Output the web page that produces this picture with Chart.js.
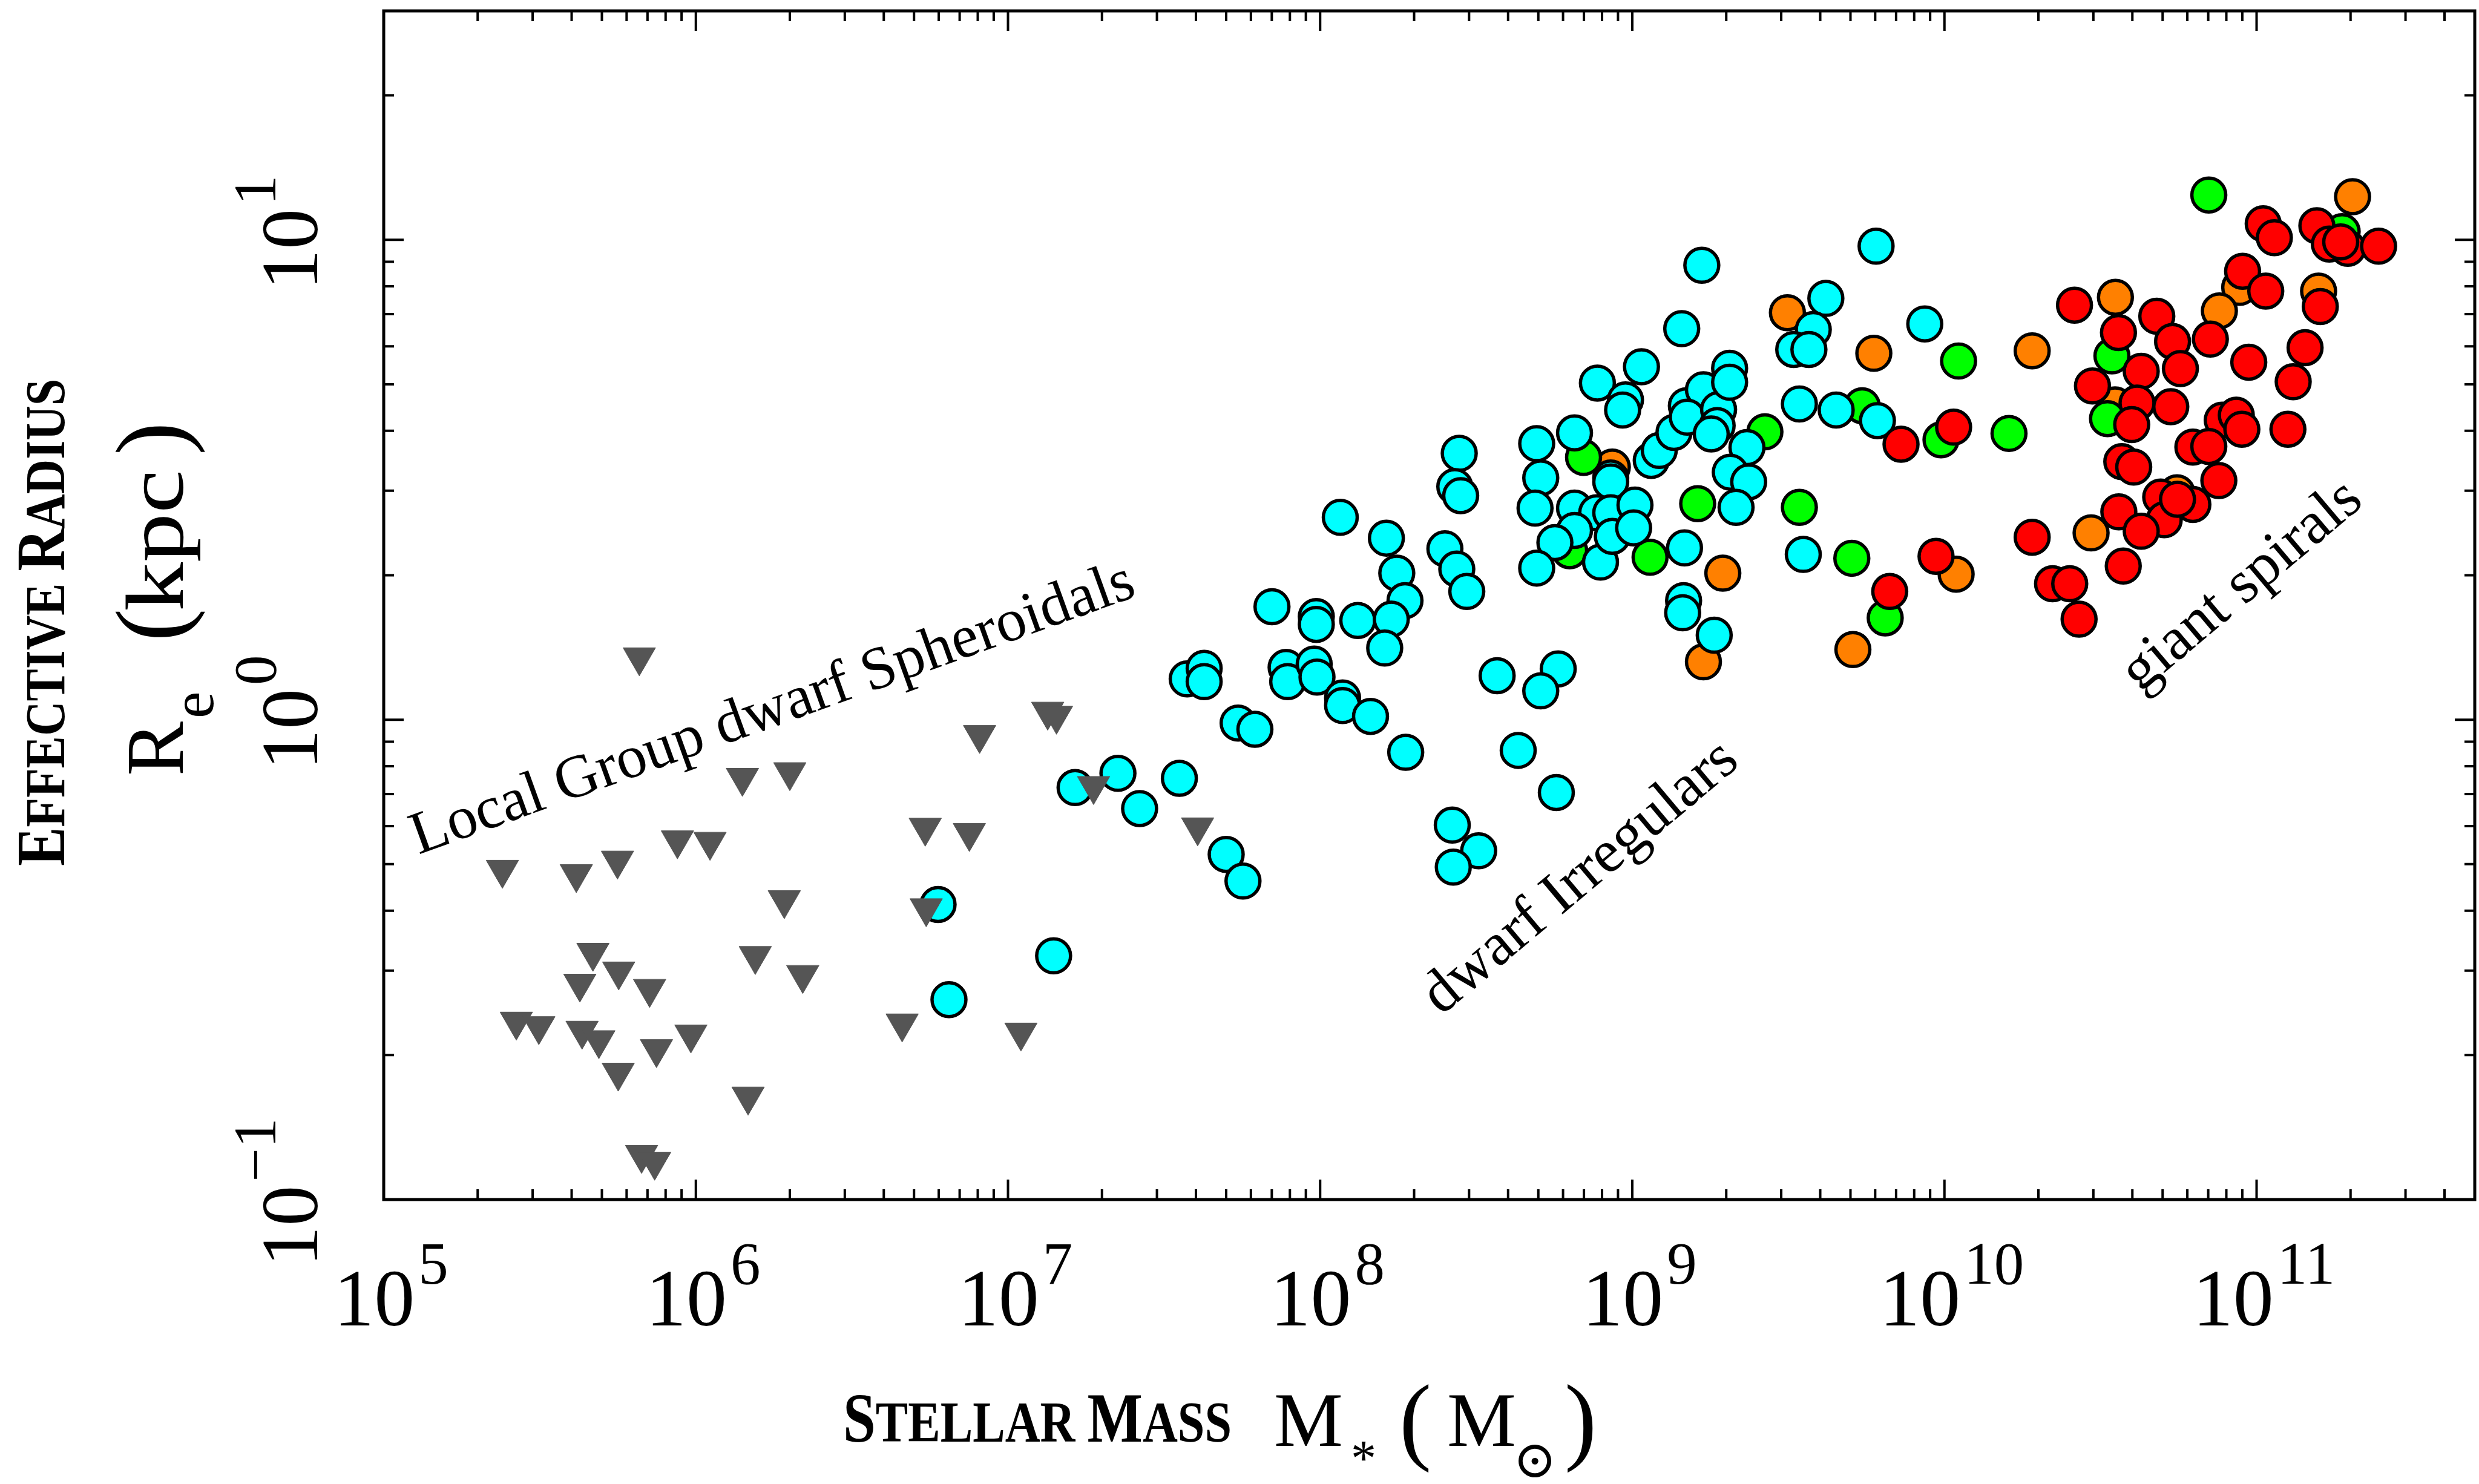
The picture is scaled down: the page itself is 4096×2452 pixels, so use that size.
<!DOCTYPE html>
<html>
<head>
<meta charset="utf-8">
<title>Effective radius vs stellar mass</title>
<script src="https://cdn.jsdelivr.net/npm/chart.js@4.4.1/dist/chart.umd.min.js"></script>
<style>
html, body { margin:0; padding:0; background:#ffffff; overflow:hidden; }
#wrap { width:4096px; height:2452px; position:relative; }
canvas { display:block; }
</style>
</head>
<body>
<div id="wrap"><canvas id="chart" width="4096" height="2452"></canvas></div>
<script>
// ---------------- data (stellar mass in Msun, effective radius in kpc) ----------------
const dsphMass = [6.59e5, 1.34e7, 1.43e7, 8.11e6, 1.41e6, 2.00e6, 1.88e7, 5.43e6, 7.52e6, 8.73e5,
  1.11e6, 2.40e5, 4.14e5, 5.61e5, 1.92e6, 5.47e6, 4.68e5, 5.66e5, 4.25e5, 7.11e5,
  1.55e6, 2.20e6, 2.66e5, 3.14e5, 4.32e5, 4.89e5, 7.48e5, 9.64e5, 5.64e5, 1.47e6,
  6.70e5, 7.38e5, 4.58e6, 1.10e7, 4.05e7];
const dsphRe = [1.35, 1.04, 1.02, 0.93, 0.757, 0.778, 0.728, 0.596, 0.581, 0.561,
  0.557, 0.487, 0.477, 0.509, 0.421, 0.405, 0.327, 0.299, 0.282, 0.275,
  0.322, 0.294, 0.235, 0.230, 0.225, 0.215, 0.206, 0.221, 0.184, 0.164,
  0.124, 0.120, 0.233, 0.223, 0.597];

const dirrMass = [5.97e6, 6.47e6, 1.40e7, 1.64e7, 2.25e7, 2.64e7, 3.54e7, 5.00e7, 5.66e7, 3.75e7,
  4.25e7, 4.25e7, 5.46e7, 6.18e7, 7.01e7, 7.78e7, 7.87e7, 9.57e7, 9.77e7, 9.72e7,
  9.72e7, 1.18e8, 1.18e8, 1.45e8, 1.16e8, 1.32e8, 1.63e8, 1.76e8, 1.87e8, 1.69e8,
  1.61e8, 1.88e8, 2.79e8, 2.70e8, 2.82e8, 2.51e8, 2.74e8, 2.95e8, 3.69e8, 5.79e8,
  5.09e8, 4.31e8, 5.71e8, 2.65e8, 3.22e8, 2.67e8,
  1.67e9, 6.04e9, 1.44e9, 1.07e9, 7.73e8, 9.51e8, 9.31e8, 4.94e8, 6.53e8, 8.53e8,
  8.53e8, 5.09e8, 4.88e8, 6.53e8, 7.69e8, 8.53e8, 1.02e9, 6.53e8, 5.65e8, 4.94e8,
  7.91e8, 8.63e8, 1.01e9, 1.47e9, 1.15e9, 1.22e9, 1.36e9, 1.49e9, 1.69e9, 1.50e9,
  1.89e9, 1.87e9, 1.79e9, 2.05e9, 2.05e9, 2.33e9, 2.06e9, 2.36e9, 2.15e9, 1.46e9,
  1.45e9, 1.83e9, 4.17e9, 3.80e9, 3.29e9, 3.68e9, 8.65e9, 3.43e9, 4.50e9, 6.10e9, 3.53e9];
const dirrRe = [0.412, 0.261, 0.322, 0.722, 0.773, 0.653, 0.755, 0.524, 0.461, 1.216,
  1.28, 1.20, 0.984, 0.955, 1.72, 1.285, 1.20, 1.306, 1.227, 1.64,
  1.58, 1.11, 1.07, 1.016, 2.64, 1.61, 2.39, 2.02, 1.77, 1.62,
  1.41, 0.855, 3.59, 3.06, 2.93, 2.27, 2.06, 1.85, 1.235, 1.276,
  1.148, 0.863, 0.705, 0.603, 0.533, 0.493,
  8.85, 9.70, 6.53, 5.44, 5.03, 4.64, 4.42, 3.76, 3.96, 3.19,
  3.13, 3.19, 2.76, 2.76, 2.70, 2.70, 2.80, 2.48, 2.34, 2.07,
  2.13, 2.41, 2.51, 2.28, 3.47, 3.64, 3.97, 4.51, 4.87, 4.27,
  4.43, 4.10, 3.94, 5.40, 5.05, 3.69, 3.28, 3.13, 2.77, 1.77,
  1.67, 1.50, 7.55, 6.50, 5.91, 5.91, 6.68, 4.55, 4.42, 4.20, 2.21];

const greenMass = [6.98e8, 6.30e8, 1.14e9, 2.66e9, 1.62e9, 5.45e9, 1.11e10, 9.75e9, 1.61e10, 3.43e9,
  5.05e9, 6.46e9, 7.03e10, 1.88e11, 3.44e10, 3.33e10];
const greenRe = [3.52, 2.25, 2.18, 3.98, 2.82, 4.51, 5.59, 3.83, 3.95, 2.77,
  2.17, 1.63, 12.4, 10.4, 5.73, 4.24];

const orangeMass = [8.63e8, 1.95e9, 1.69e9, 3.14e9, 5.94e9, 1.09e10, 5.09e9, 2.03e11, 8.83e10, 1.58e11,
  7.60e10, 3.53e10, 1.91e10, 3.52e10, 5.56e10, 2.95e10];
const orangeRe = [3.36, 2.02, 1.32, 7.05, 5.80, 2.01, 1.40, 12.3, 7.96, 7.82,
  7.11, 7.59, 5.87, 4.53, 2.97, 2.45];

const redMass = [7.26e9, 1.07e10, 9.40e9, 6.68e9, 1.05e11, 1.14e11, 1.56e11, 1.71e11, 1.96e11, 1.86e11,
  2.46e11, 9.02e10, 1.07e11, 1.60e11, 7.11e10, 2.61e10, 4.79e10, 5.38e10, 5.70e10, 3.61e10,
  4.27e10, 2.98e10, 9.44e10, 1.43e11, 1.31e11, 1.26e11, 4.14e10, 3.98e10, 5.31e10, 7.76e10,
  8.61e10, 8.97e10, 6.25e10, 7.03e10, 3.70e10, 4.04e10, 7.57e10, 4.93e10, 6.25e10, 5.06e10,
  3.62e10, 4.27e10, 1.91e10, 3.74e10, 2.22e10, 2.52e10, 2.70e10, 5.58e10];
const redRe = [3.75, 4.07, 2.19, 1.85, 10.8, 10.1, 10.7, 9.8, 9.6, 9.9,
  9.7, 8.6, 7.82, 7.26, 6.21, 7.31, 6.93, 6.14, 5.39, 6.41,
  5.32, 4.96, 5.56, 5.96, 5.06, 4.03, 4.57, 4.12, 4.49, 4.21,
  4.31, 4.03, 3.70, 3.71, 3.45, 3.36, 3.15, 2.91, 2.81, 2.61,
  2.71, 2.47, 2.40, 2.09, 1.92, 1.92, 1.62, 2.88];

// axis tick labels
const xTickValues = [1e5, 1e6, 1e7, 1e8, 1e9, 1e10, 1e11];
const xTickExp = ['5', '6', '7', '8', '9', '10', '11'];
const yTickValues = [0.1, 1, 10];
const yTickExp = ['\u22121', '0', '1'];

// texts
const yTitleWords = 'Effective Radius';
const xTitleWords = 'Stellar Mass';
const annotationTexts = ['Local Group dwarf Spheroidals', 'dwarf Irregulars', 'giant spirals'];

// ---------------- helpers ----------------
const SERIF = '"Liberation Serif", "Times New Roman", serif';
function toPoints(mass, re) { return mass.map((m, i) => ({ x: m, y: re[i] })); }

function circleSet(label, mass, re, fill, order) {
  return {
    label, data: toPoints(mass, re), order,
    pointStyle: 'circle', pointRadius: 28, pointHoverRadius: 28,
    pointBackgroundColor: fill, pointBorderColor: '#000000', pointBorderWidth: 5.5,
    backgroundColor: fill, borderColor: '#000000', showLine: false
  };
}

function smallCapsRuns(text, F1, F2) {
  const runs = [];
  text.split(' ').forEach((w, wi) => {
    if (wi > 0) runs.push({ s: ' ', size: F2 });
    runs.push({ s: w[0].toUpperCase(), size: F1 });
    if (w.length > 1) runs.push({ s: w.slice(1).toUpperCase(), size: F2 });
  });
  return runs;
}
function drawSmallCaps(ctx, text, F1, F2, targetLen) {
  const runs = smallCapsRuns(text, F1, F2);
  let total = 0;
  runs.forEach(r => { ctx.font = `bold ${r.size}px ${SERIF}`; r.w = ctx.measureText(r.s).width; total += r.w; });
  const k = targetLen / total;
  ctx.save();
  ctx.scale(k, 1);
  let x = 0;
  runs.forEach(r => { ctx.font = `bold ${r.size}px ${SERIF}`; ctx.fillText(r.s, x, 0); x += r.w; });
  ctx.restore();
}
function drawPowerLabel(ctx, exp, cx, baseY, supY) {
  const FM = 134, FS = 99, gap = 6;
  ctx.font = `${FM}px ${SERIF}`;
  const wb = ctx.measureText('10').width;
  ctx.font = `${FS}px ${SERIF}`;
  const we = ctx.measureText(exp).width;
  const x0 = cx - (wb + gap + we) / 2;
  ctx.font = `${FM}px ${SERIF}`;
  ctx.fillText('10', x0, baseY);
  ctx.font = `${FS}px ${SERIF}`;
  ctx.fillText(exp, x0 + wb + gap, supY);
}

const decorPlugin = {
  id: 'decor',
  afterDraw(chart) {
    const ctx = chart.ctx;
    const xs = chart.scales.x, ys = chart.scales.y;
    const a = chart.chartArea;
    ctx.save();
    ctx.fillStyle = '#000000';
    ctx.strokeStyle = '#000000';
    ctx.textAlign = 'left';
    ctx.textBaseline = 'alphabetic';

    // ----- inward ticks on all four sides -----
    const MAJ = 33, MIN = 17;
    ctx.lineWidth = 4;
    ctx.lineCap = 'butt';
    ctx.beginPath();
    for (let d = 5; d <= 11; d++) {
      for (let m = 1; m <= 9; m++) {
        const v = m * Math.pow(10, d);
        if (v > xs.max * 1.0001) break;
        const p = xs.getPixelForValue(v);
        const L = (m === 1) ? MAJ : MIN;
        ctx.moveTo(p, a.bottom); ctx.lineTo(p, a.bottom - L);
        ctx.moveTo(p, a.top); ctx.lineTo(p, a.top + L);
      }
    }
    for (let d = -1; d <= 1; d++) {
      for (let m = 1; m <= 9; m++) {
        const v = m * Math.pow(10, d);
        if (v > ys.max * 1.0001) break;
        const p = ys.getPixelForValue(v);
        const L = (m === 1) ? MAJ : MIN;
        ctx.moveTo(a.left, p); ctx.lineTo(a.left + L, p);
        ctx.moveTo(a.right, p); ctx.lineTo(a.right - L, p);
      }
    }
    ctx.stroke();
    ctx.lineWidth = 5;
    ctx.strokeRect(a.left, a.top, a.right - a.left, a.bottom - a.top);

    // ----- x tick labels -----
    xTickValues.forEach((v, i) => {
      const px = xs.getPixelForValue(v);
      drawPowerLabel(ctx, xTickExp[i], px + 12, a.bottom + 208, a.bottom + 139);
    });
    // ----- y tick labels (rotated) -----
    yTickValues.forEach((v, i) => {
      const py = ys.getPixelForValue(v);
      ctx.save();
      ctx.translate(a.left - 110, py);
      ctx.rotate(-Math.PI / 2);
      drawPowerLabel(ctx, yTickExp[i], 12, 0, -69);
      ctx.restore();
    });

    // ----- y axis title -----
    ctx.save();
    ctx.translate(106, 1431);
    ctx.rotate(-Math.PI / 2);
    drawSmallCaps(ctx, yTitleWords, 114, 94, 805);
    ctx.restore();

    ctx.save();
    ctx.translate(302, 1282);
    ctx.rotate(-Math.PI / 2);
    ctx.font = `135px ${SERIF}`; ctx.fillText('R', 0, 0);
    ctx.font = `100px ${SERIF}`; ctx.fillText('e', 95, 50);
    ctx.font = `164px ${SERIF}`; ctx.fillText('(', 222, 2);
    ctx.save(); ctx.translate(272, 0); ctx.scale(1.2, 1);
    ctx.font = `135px ${SERIF}`; ctx.fillText('kpc', 0, 0);
    ctx.restore();
    ctx.font = `164px ${SERIF}`; ctx.fillText(')', 530, 2);
    ctx.restore();

    // ----- x axis title -----
    ctx.save();
    ctx.translate(1393, 2382);
    drawSmallCaps(ctx, xTitleWords, 116, 96, 642);
    ctx.restore();

    ctx.font = `128px ${SERIF}`; ctx.fillText('M', 2105, 2389);
    ctx.font = `84px ${SERIF}`; ctx.fillText('*', 2232, 2438);
    ctx.font = `160px ${SERIF}`; ctx.fillText('(', 2312, 2399);
    ctx.font = `128px ${SERIF}`; ctx.fillText('M', 2391, 2389);
    // sun symbol, centred on its own ink box
    ctx.font = `86px "DejaVu Serif", ${SERIF}`;
    const sm = ctx.measureText('\u2299');
    const sx = 2545 - (sm.actualBoundingBoxRight - sm.actualBoundingBoxLeft) / 2 + sm.actualBoundingBoxLeft;
    const sy = 2414 + (sm.actualBoundingBoxAscent - sm.actualBoundingBoxDescent) / 2;
    ctx.fillText('\u2299', sx, sy);
    ctx.font = `160px ${SERIF}`; ctx.fillText(')', 2585, 2399);

    // ----- rotated annotations -----
    const ann = [
      { t: annotationTexts[0], x: 1286, y: 1198, ang: -19.8 },
      { t: annotationTexts[1], x: 2629, y: 1471, ang: -40.0 },
      { t: annotationTexts[2], x: 3722, y: 989, ang: -40.1 }
    ];
    ctx.font = `100px ${SERIF}`;
    ctx.textAlign = 'center';
    ann.forEach(o => {
      ctx.save();
      ctx.translate(o.x, o.y);
      ctx.rotate(o.ang * Math.PI / 180);
      ctx.fillText(o.t, 0, 0);
      ctx.restore();
    });
    ctx.restore();
  }
};

new Chart(document.getElementById('chart'), {
  type: 'scatter',
  data: {
    datasets: [
      {
        label: 'Local Group dwarf Spheroidals', data: toPoints(dsphMass, dsphRe), order: 1,
        pointStyle: 'triangle', pointRotation: 180, pointRadius: 31, pointHoverRadius: 31,
        pointBackgroundColor: '#555555', pointBorderColor: '#555555', pointBorderWidth: 1,
        backgroundColor: '#555555', borderColor: '#555555', showLine: false
      },
      circleSet('giant spirals', redMass, redRe, '#ff0000', 2),
      circleSet('dwarf Irregulars', dirrMass, dirrRe, '#00ffff', 3),
      circleSet('green sample', greenMass, greenRe, '#00ff00', 4),
      circleSet('orange sample', orangeMass, orangeRe, '#ff8000', 5)
    ]
  },
  options: {
    responsive: false,
    maintainAspectRatio: false,
    animation: false,
    devicePixelRatio: 1,
    events: [],
    layout: { autoPadding: false, padding: { left: 634, right: 7, top: 18, bottom: 470 } },
    plugins: { legend: { display: false }, tooltip: { enabled: false } },
    scales: {
      x: { type: 'logarithmic', min: 1e5, max: 5e11, display: false },
      y: { type: 'logarithmic', min: 0.1, max: 30, display: false }
    }
  },
  plugins: [decorPlugin]
});
</script>
</body>
</html>
